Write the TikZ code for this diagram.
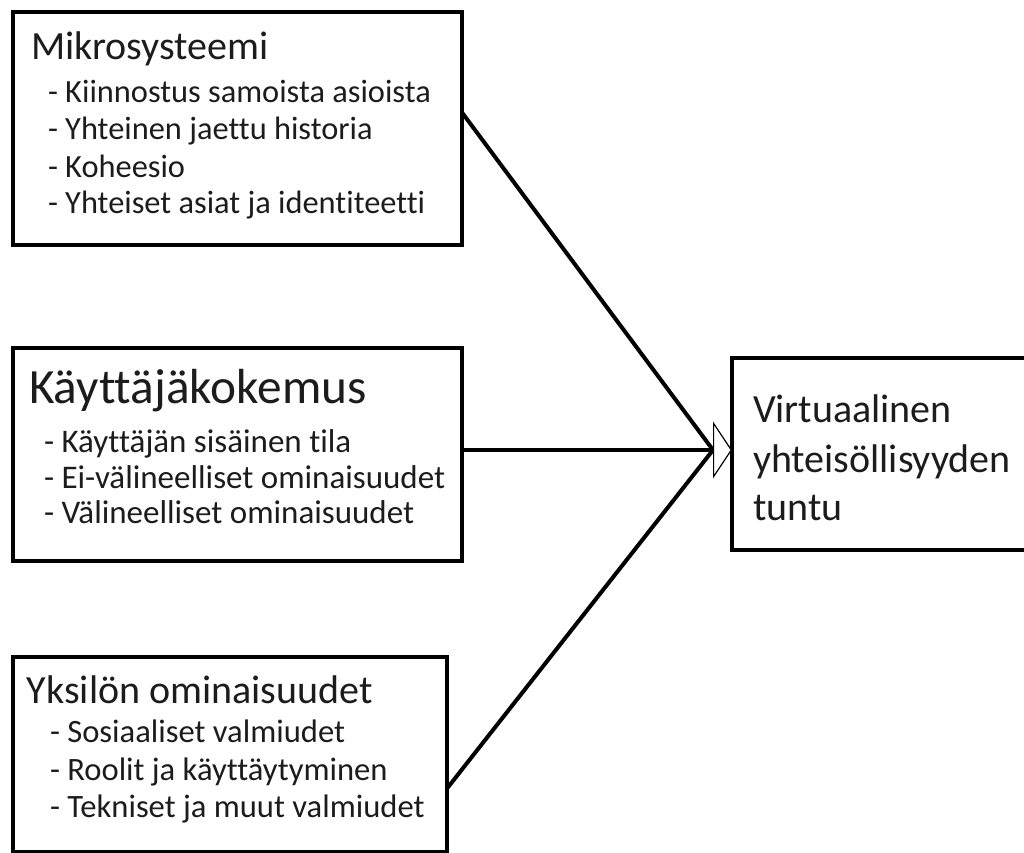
\documentclass[tikz,border=0pt]{standalone}
\usepackage{fontspec}
\setmainfont{Carlito}[Ligatures=NoCommon]
\usetikzlibrary{arrows.meta,calc}
\definecolor{txt}{HTML}{1C1C1C}
\tikzset{
  box/.style={draw=black, line width=4pt, rectangle, inner sep=0pt, outer sep=0pt, fill=white},
  ln/.style={anchor=base west, inner sep=0pt, outer sep=0pt, text=txt},
  ttlA/.style={ln, font=\fontsize{40}{48}\selectfont},
  ttlB/.style={ln, font=\fontsize{49.3}{58}\selectfont},
  item/.style={ln, font=\fontsize{32.6}{38}\selectfont},
  itemA/.style={ln, font=\fontsize{32.4}{38}\selectfont},
  itemB/.style={ln, font=\fontsize{33}{38}\selectfont},
  conn/.style={draw=black, line width=4pt},
}
\begin{document}
\begin{tikzpicture}[x=1pt, y=-1pt]
\useasboundingbox (0,0) rectangle (1024,852);
\clip (0,0) rectangle (1024,852);
% boxes
\node[box, minimum width=449pt, minimum height=233pt] (box1) at (237.5,128.5) {};
\node[box, minimum width=449pt, minimum height=213pt] (box2) at (237.5,454.5) {};
\node[box, minimum width=434pt, minimum height=195pt] (box3) at (230,754.5) {};
\node[box, minimum width=300pt, minimum height=192pt] (box4) at (882,454) {};
% box 1 text
\node[ttlA] (t1) at (31,59) {Mikrosysteemi};
\node[itemA] (t1a) at (48,102) {- Kiinnostus samoista asioista};
\node[itemA] (t1b) at (48,139) {- Yhteinen jaettu historia};
\node[itemA] (t1c) at (48,177) {- Koheesio};
\node[itemA] (t1d) at (48,213) {- Yhteiset asiat ja identiteetti};
% box 2 text
\node[ttlB] (t2) at (29,403) {Käyttäjäkokemus};
\node[itemB] (t2a) at (44,452) {- Käyttäjän sisäinen tila};
\node[itemB] (t2b) at (44,488) {- Ei-välineelliset ominaisuudet};
\node[itemB] (t2c) at (44,523) {- Välineelliset ominaisuudet};
% box 3 text
\node[ttlA] (t3) at (27,703) {Yksilön ominaisuudet};
\node[item] (t3a) at (50,742) {- Sosiaaliset valmiudet};
\node[item] (t3b) at (50,780) {- Roolit ja käyttäytyminen};
\node[item] (t3c) at (50,817) {- Tekniset ja muut valmiudet};
% box 4 text
\node[ttlA] (t4a) at (753,422) {Virtuaalinen};
\node[ttlA] (t4b) at (753,472) {yhteisöllisyyden};
\node[ttlA] (t4c) at (753,520) {tuntu};
% connectors
\coordinate (hub) at (713,450);
\draw[conn] ([yshift=16pt]box1.east) -- (hub);
\draw[conn] ([yshift=-34pt]box3.east) -- (hub);
\draw[conn, -{Triangle[length=19pt, width=57pt, fill=white, line width=1.2pt]}] (box2.east |- hub) -- (box4.west |- hub);
\end{tikzpicture}
\end{document}
